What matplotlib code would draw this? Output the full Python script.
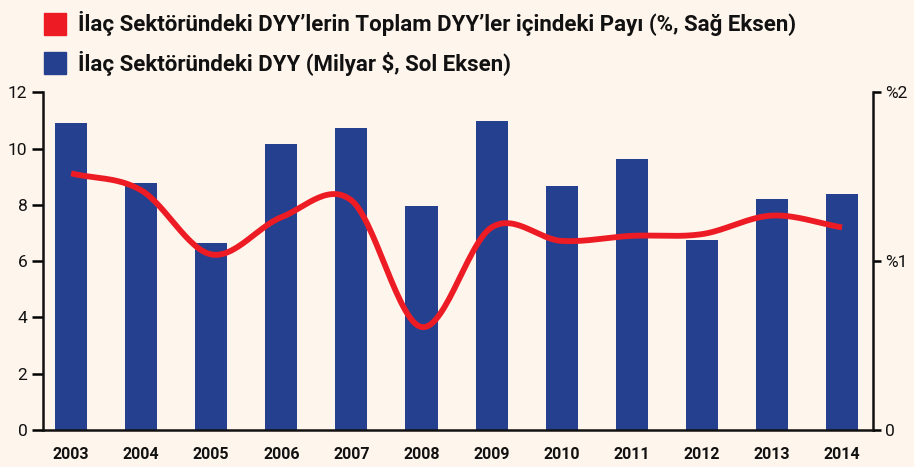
import numpy as np
import matplotlib
matplotlib.use("Agg")
import matplotlib.pyplot as plt
from matplotlib.patches import Rectangle

years = ["2003", "2004", "2005", "2006", "2007", "2008", "2009", "2010", "2011", "2012", "2013", "2014"]
fdi_billion = [10.9, 8.78, 6.65, 10.16, 10.73, 7.96, 10.98, 8.67, 9.63, 6.75, 8.21, 8.39]
share_pct = [1.52, 1.42, 1.04, 1.26, 1.36, 0.61, 1.20, 1.12, 1.15, 1.16, 1.27, 1.20]
left_ticks = [0, 2, 4, 6, 8, 10, 12]
right_ticks = [0, 1, 2]
right_labels = ["0", "%1", "%2"]
legend_labels = ["İlaç Sektöründeki DYY’lerin Toplam DYY’ler içindeki Payı (%, Sağ Eksen)",
                 "İlaç Sektöründeki DYY (Milyar $, Sol Eksen)"]

BG = "#FEF5EC"
BLUE = "#25408F"
RED = "#ED1C24"
plt.rcParams['font.family'] = ['Roboto', 'DejaVu Sans']


def catmull_rom(x, y, n=30):
    x = np.asarray(x, float)
    y = np.asarray(y, float)
    px = np.concatenate([[2 * x[0] - x[1]], x, [2 * x[-1] - x[-2]]])
    py = np.concatenate([[2 * y[0] - y[1]], y, [2 * y[-1] - y[-2]]])
    xs, ys = [], []
    for i in range(1, len(px) - 2):
        t = np.linspace(0, 1, n, endpoint=(i == len(px) - 3))
        for P, out in ((px, xs), (py, ys)):
            p0, p1, p2, p3 = P[i - 1], P[i], P[i + 1], P[i + 2]
            out.append(0.5 * ((2 * p1) + (-p0 + p2) * t + (2 * p0 - 5 * p1 + 4 * p2 - p3) * t ** 2
                              + (-p0 + 3 * p1 - 3 * p2 + p3) * t ** 3))
    return np.concatenate(xs), np.concatenate(ys)


fig = plt.figure(figsize=(9.14, 4.67), dpi=100, facecolor=BG)
ax = fig.add_axes([0.0467, 0.0792, 0.9083, 0.7231])
ax.set_facecolor(BG)
x = np.arange(len(years))
ax.bar(x, fdi_billion, width=0.457, color=BLUE, zorder=2)
ax.set_xlim(-0.405, 11.44)
ax.set_ylim(0, 12)
ax.set_yticks(left_ticks)
ax.set_yticklabels([str(t) for t in left_ticks], fontsize=12.5, color="#111111")
ax.set_xticks(x)
ax.set_xticklabels(years, fontsize=11.5, fontweight="bold", color="#111111")
ax.tick_params(axis="x", length=0, pad=12)
ax.tick_params(axis="y", direction="out", length=8, width=1.8, pad=3)
for s in ["top", "right"]:
    ax.spines[s].set_visible(False)
for s in ["left", "bottom"]:
    ax.spines[s].set_linewidth(1.8)
    ax.spines[s].set_color("#111111")

ax2 = ax.twinx()
ax2.set_ylim(0, 2)
ax2.set_yticks(right_ticks)
ax2.set_yticklabels(right_labels, fontsize=12.5, color="#111111")
ax2.tick_params(axis="y", direction="out", length=6, width=1.8, pad=3)
for s in ["top", "left", "bottom"]:
    ax2.spines[s].set_visible(False)
ax2.spines["right"].set_linewidth(1.8)
ax2.spines["right"].set_color("#111111")
sx, sy = catmull_rom(x, share_pct)
ax2.plot(sx, sy, color=RED, lw=4.2, solid_capstyle="butt", zorder=3)

# legend
W, H = 914, 467
for i, (lab, col) in enumerate(zip(legend_labels, [RED, BLUE])):
    yc = 24 + i * 39
    fig.patches.append(Rectangle((44 / W, 1 - (yc + 11) / H), 22 / W, 22 / H,
                                 transform=fig.transFigure, color=col))
    fig.text(78 / W, 1 - yc / H, lab, fontsize=16, fontweight="bold", va="center", ha="left",
             color="#111111")

fig.savefig("out.png", dpi=100, facecolor=BG)
